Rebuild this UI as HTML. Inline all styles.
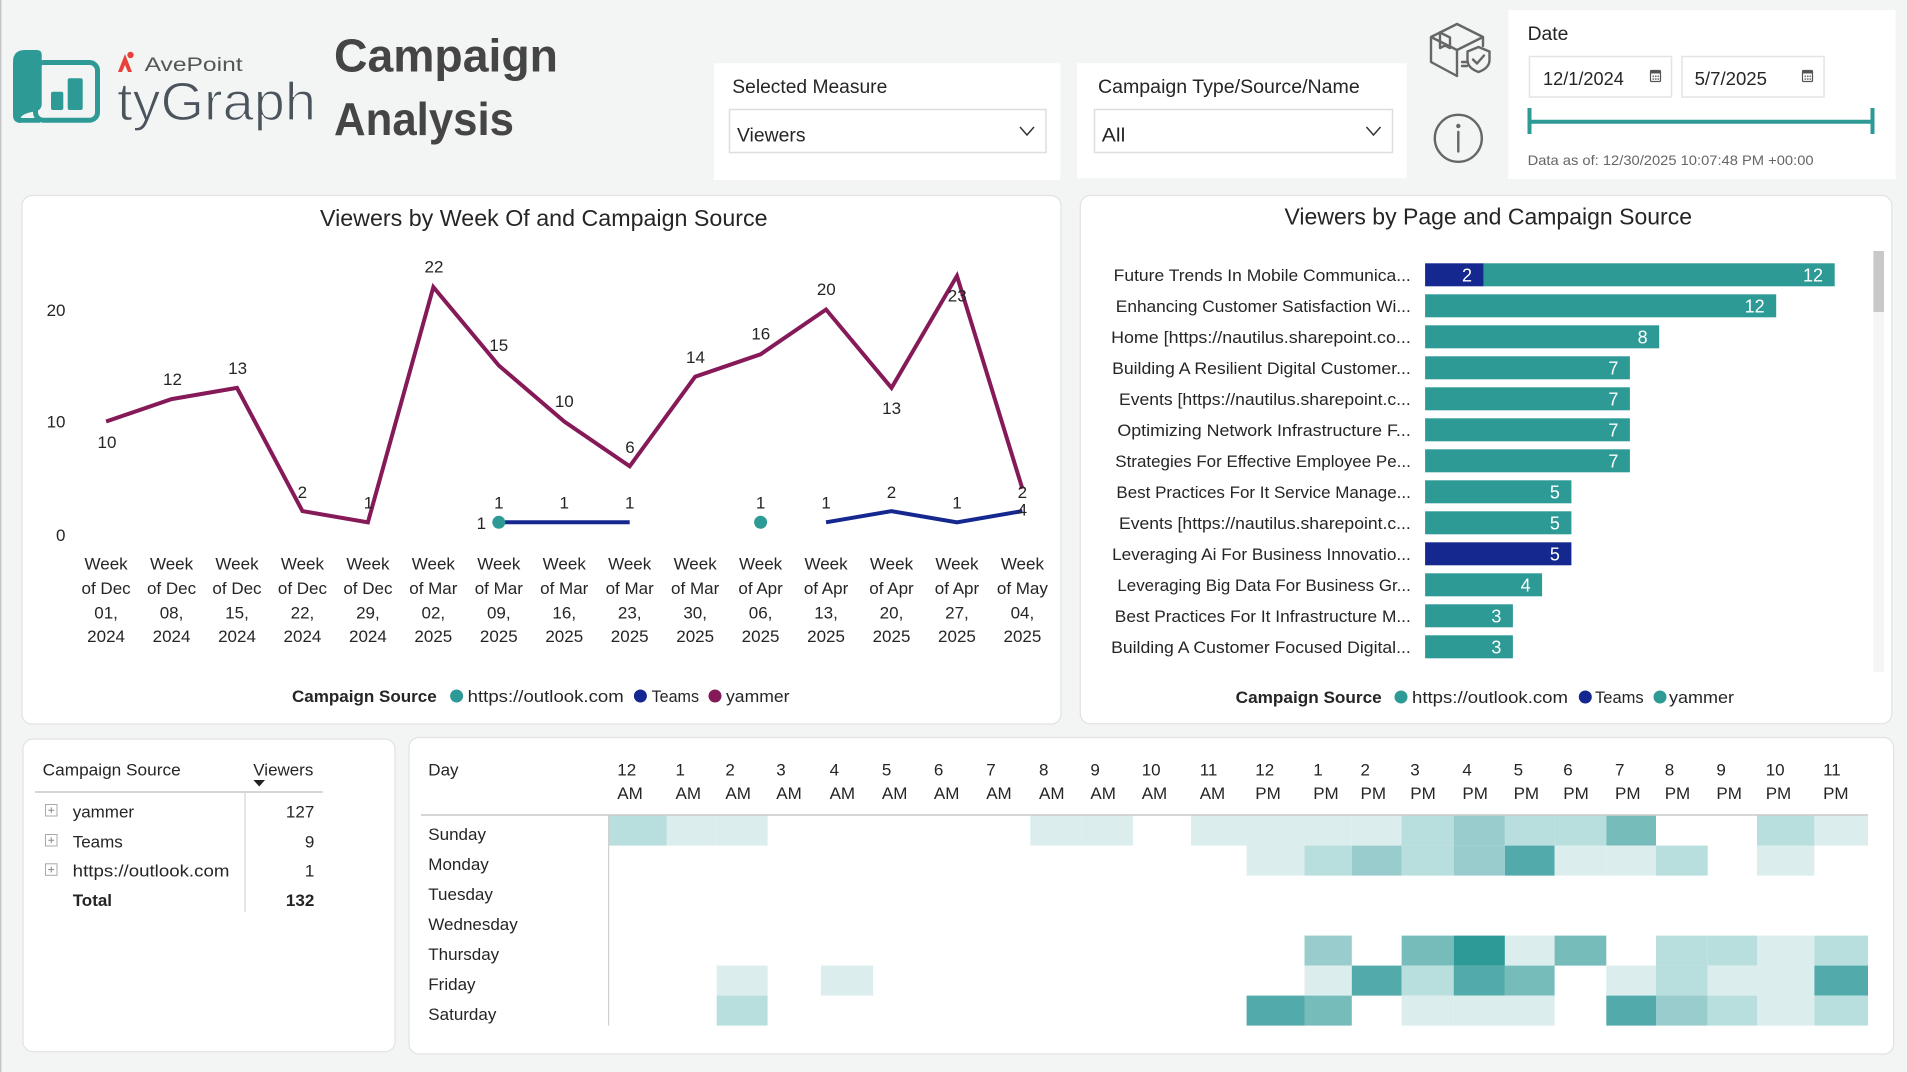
<!DOCTYPE html>
<html>
<head>
<meta charset="utf-8">
<style>
  html, body { margin:0; padding:0; background:#F3F4F4; }
  body { width:1907px; height:1072px; overflow:hidden; }
  svg { display:block; }
  text { font-family: "Liberation Sans", "DejaVu Sans", sans-serif; fill:#252525; }
</style>
</head>
<body>
<svg width="1907" height="1072" viewBox="0 0 1907 1072" xmlns="http://www.w3.org/2000/svg">
  <rect x="0" y="0" width="1907" height="1072" fill="#F3F4F4"/>
  <line x1="0.7" y1="0" x2="0.7" y2="1072" stroke="#c4c4c4" stroke-width="1.4"/>

  <!-- ===== Logo ===== -->
  <g>
    <path d="M13 62 Q13 50 25 50 L37 50 Q41.7 50 41.7 55 L41.7 104 Q41.7 110 35 111.5 Q24 113 21 117 L21 122.7 L20 122.7 Q13 122.7 13 115 Z" fill="#2E9A96"/>
    <rect x="35.5" y="62.5" width="62" height="57.7" rx="8" ry="8" fill="none" stroke="#2E9A96" stroke-width="5"/>
    <path d="M18 118 L40 118 L40 122.7 L18 122.7 Z" fill="#2E9A96"/>
    <rect x="51" y="91.7" width="12.3" height="18.3" rx="2" fill="#2E9A96"/>
    <rect x="67.7" y="78.3" width="15" height="31.7" rx="2" fill="#2E9A96"/>
    <path d="M118 72 L125 54 L132 72 L128 72 L125 65 L122 72 Z" fill="#E8413C"/>
    <circle cx="130.5" cy="55" r="3.2" fill="#E8413C"/>
    <text x="144.6" y="71" font-size="19" textLength="98" lengthAdjust="spacingAndGlyphs" style="fill:#555">AvePoint</text>
    <text x="117" y="120" font-size="54" textLength="199" lengthAdjust="spacingAndGlyphs" style="fill:#4B535C;stroke:#F3F4F4;stroke-width:1.3">tyGraph</text>
  </g>
  <text x="334" y="71.7" font-size="46" font-weight="bold" textLength="224" lengthAdjust="spacingAndGlyphs" style="fill:#454545">Campaign</text>
  <text x="334" y="135" font-size="46" font-weight="bold" textLength="180" lengthAdjust="spacingAndGlyphs" style="fill:#454545">Analysis</text>

  <!-- ===== Slicer panels ===== -->
  <rect x="713.9" y="63.3" width="346.4" height="116.7" fill="#ffffff"/>
  <text x="732.3" y="93" font-size="19" textLength="155" lengthAdjust="spacingAndGlyphs">Selected Measure</text>
  <rect x="729.5" y="109.5" width="316.5" height="43" fill="#ffffff" stroke="#dedede" stroke-width="1.5"/>
  <text x="737" y="141.5" font-size="19" textLength="68.5" lengthAdjust="spacingAndGlyphs">Viewers</text>
  <polyline points="1020,127 1027,135 1034,127" fill="none" stroke="#333" stroke-width="1.5"/>

  <rect x="1077" y="63.3" width="329.7" height="115" fill="#ffffff"/>
  <text x="1098" y="93" font-size="19" textLength="261.7" lengthAdjust="spacingAndGlyphs">Campaign Type/Source/Name</text>
  <rect x="1094.5" y="109.5" width="298" height="43" fill="#ffffff" stroke="#dedede" stroke-width="1.5"/>
  <text x="1101.8" y="141.5" font-size="19" textLength="23.5" lengthAdjust="spacingAndGlyphs">All</text>
  <polyline points="1366.5,127 1373.5,135 1380.5,127" fill="none" stroke="#333" stroke-width="1.5"/>

  <!-- icons -->
  <g fill="none" stroke="#666" stroke-width="2.4" stroke-linejoin="round" stroke-linecap="round">
    <path d="M1457 24 L1431 37 L1431 62 L1457 76 M1431 37 L1457 50 L1483 37 L1457 24 M1457 50 L1457 76 M1483 37 L1483 46"/>
    <path d="M1440 32.5 L1450 37.5 L1450 48 L1445 45.5 L1440 48 Z"/>
    <path d="M1462 62 L1468 62 M1462 66 L1467 66"/>
    <path d="M1478.5 47 L1489.5 51.5 L1489.5 60 Q1489.5 68 1478.5 72 Q1467.5 68 1467.5 60 L1467.5 51.5 Z" fill="#F3F4F4"/>
    <path d="M1473 59.5 L1477 63.5 L1484 55.5"/>
    <circle cx="1458.3" cy="138.3" r="23.5"/>
    <line x1="1458.3" y1="132" x2="1458.3" y2="151.5"/>
  </g>
  <circle cx="1458.3" cy="126" r="2.2" fill="#666"/>

  <!-- Date panel -->
  <rect x="1508.3" y="10" width="387.2" height="169" fill="#ffffff"/>
  <text x="1527.6" y="40" font-size="19" textLength="40.8" lengthAdjust="spacingAndGlyphs">Date</text>
  <rect x="1529.5" y="56.5" width="142" height="40.5" fill="#ffffff" stroke="#e4e4e4" stroke-width="1.5"/>
  <rect x="1682" y="56.5" width="142" height="40.5" fill="#ffffff" stroke="#e4e4e4" stroke-width="1.5"/>
  <text x="1543" y="85" font-size="18" textLength="80.8" lengthAdjust="spacingAndGlyphs">12/1/2024</text>
  <text x="1694.6" y="85" font-size="18" textLength="72.4" lengthAdjust="spacingAndGlyphs">5/7/2025</text>
  <g stroke="#555" stroke-width="1.2" fill="none">
    <rect x="1650.5" y="70.5" width="10" height="11" rx="1"/>
    <rect x="1802.5" y="70.5" width="10" height="11" rx="1"/>
  </g>
  <rect x="1650.5" y="70.5" width="10" height="3" fill="#555"/>
  <rect x="1802.5" y="70.5" width="10" height="3" fill="#555"/>
  <g fill="#777">
    <rect x="1652.5" y="75.5" width="1.6" height="1.6"/><rect x="1655" y="75.5" width="1.6" height="1.6"/><rect x="1657.5" y="75.5" width="1.6" height="1.6"/>
    <rect x="1652.5" y="78.3" width="1.6" height="1.6"/><rect x="1655" y="78.3" width="1.6" height="1.6"/><rect x="1657.5" y="78.3" width="1.6" height="1.6"/>
    <rect x="1804.5" y="75.5" width="1.6" height="1.6"/><rect x="1807" y="75.5" width="1.6" height="1.6"/><rect x="1809.5" y="75.5" width="1.6" height="1.6"/>
    <rect x="1804.5" y="78.3" width="1.6" height="1.6"/><rect x="1807" y="78.3" width="1.6" height="1.6"/><rect x="1809.5" y="78.3" width="1.6" height="1.6"/>
  </g>
  <line x1="1529" y1="121.7" x2="1873" y2="121.7" stroke="#2E9A96" stroke-width="4"/>
  <line x1="1529.5" y1="108" x2="1529.5" y2="134" stroke="#2E9A96" stroke-width="4"/>
  <line x1="1872.5" y1="108" x2="1872.5" y2="134" stroke="#2E9A96" stroke-width="4"/>
  <text x="1527.6" y="165" font-size="14" textLength="286" lengthAdjust="spacingAndGlyphs" style="fill:#666">Data as of: 12/30/2025 10:07:48 PM +00:00</text>

  <!-- ===== Line chart panel ===== -->
  <rect x="22" y="195.5" width="1039" height="528.5" rx="10" ry="10" fill="#ffffff" stroke="#e2e2e2" stroke-width="1.2"/>
  <text x="320" y="226" font-size="23" textLength="447.6" lengthAdjust="spacingAndGlyphs">Viewers by Week Of and Campaign Source</text>

  <g font-size="17" text-anchor="end">
    <text x="65.5" y="316">20</text>
    <text x="65.5" y="427.5">10</text>
    <text x="65.5" y="541">0</text>
  </g>

  <polyline fill="none" stroke="#861A58" stroke-width="4" stroke-linejoin="miter"
    points="106.1,421.5 171.55,399.1 237,387.9 302.45,511.1 367.9,522.3 433.35,287.1 498.8,365.5 564.25,421.5 629.7,466.3 695.15,376.7 760.6,354.3 826.05,309.5 891.5,387.9 956.95,275.9 1022.4,488.7"/>
  <polyline fill="none" stroke="#14288F" stroke-width="4" points="498.8,522.3 564.25,522.3 629.7,522.3"/>
  <polyline fill="none" stroke="#14288F" stroke-width="4" points="826.05,522.3 891.5,511.1 956.95,522.3 1022.4,511.1"/>
  <circle cx="498.8" cy="522.3" r="6.5" fill="#2E9A96"/>
  <circle cx="760.6" cy="522.3" r="6.5" fill="#2E9A96"/>

  <g font-size="17" text-anchor="middle">
    <text x="107" y="447.8">10</text>
    <text x="172.5" y="385">12</text>
    <text x="237.6" y="374">13</text>
    <text x="302.4" y="498">2</text>
    <text x="368.5" y="508.6">1</text>
    <text x="434" y="272.7">22</text>
    <text x="498.7" y="350.8">15</text>
    <text x="564.3" y="407">10</text>
    <text x="630" y="452.9">6</text>
    <text x="695.5" y="363">14</text>
    <text x="760.8" y="339.6">16</text>
    <text x="826.3" y="295">20</text>
    <text x="891.6" y="414">13</text>
    <text x="957.2" y="301.7">23</text>
    <text x="1022.4" y="515.4">4</text>
    <text x="498.8" y="508.6">1</text>
    <text x="564.25" y="508.6">1</text>
    <text x="629.7" y="508.6">1</text>
    <text x="826.05" y="508.6">1</text>
    <text x="956.95" y="508.6">1</text>
    <text x="891.5" y="497.8">2</text>
    <text x="1022.4" y="497.8">2</text>
    <text x="481.4" y="529">1</text>
    <text x="760.6" y="508.6">1</text>
  </g>

  <g font-size="17" text-anchor="middle">
    <text x="106.1" y="569.5">Week</text><text x="106.1" y="593.8">of Dec</text><text x="106.1" y="618.5">01,</text><text x="106.1" y="642.2">2024</text>
    <text x="171.55" y="569.5">Week</text><text x="171.55" y="593.8">of Dec</text><text x="171.55" y="618.5">08,</text><text x="171.55" y="642.2">2024</text>
    <text x="237" y="569.5">Week</text><text x="237" y="593.8">of Dec</text><text x="237" y="618.5">15,</text><text x="237" y="642.2">2024</text>
    <text x="302.45" y="569.5">Week</text><text x="302.45" y="593.8">of Dec</text><text x="302.45" y="618.5">22,</text><text x="302.45" y="642.2">2024</text>
    <text x="367.9" y="569.5">Week</text><text x="367.9" y="593.8">of Dec</text><text x="367.9" y="618.5">29,</text><text x="367.9" y="642.2">2024</text>
    <text x="433.35" y="569.5">Week</text><text x="433.35" y="593.8">of Mar</text><text x="433.35" y="618.5">02,</text><text x="433.35" y="642.2">2025</text>
    <text x="498.8" y="569.5">Week</text><text x="498.8" y="593.8">of Mar</text><text x="498.8" y="618.5">09,</text><text x="498.8" y="642.2">2025</text>
    <text x="564.25" y="569.5">Week</text><text x="564.25" y="593.8">of Mar</text><text x="564.25" y="618.5">16,</text><text x="564.25" y="642.2">2025</text>
    <text x="629.7" y="569.5">Week</text><text x="629.7" y="593.8">of Mar</text><text x="629.7" y="618.5">23,</text><text x="629.7" y="642.2">2025</text>
    <text x="695.15" y="569.5">Week</text><text x="695.15" y="593.8">of Mar</text><text x="695.15" y="618.5">30,</text><text x="695.15" y="642.2">2025</text>
    <text x="760.6" y="569.5">Week</text><text x="760.6" y="593.8">of Apr</text><text x="760.6" y="618.5">06,</text><text x="760.6" y="642.2">2025</text>
    <text x="826.05" y="569.5">Week</text><text x="826.05" y="593.8">of Apr</text><text x="826.05" y="618.5">13,</text><text x="826.05" y="642.2">2025</text>
    <text x="891.5" y="569.5">Week</text><text x="891.5" y="593.8">of Apr</text><text x="891.5" y="618.5">20,</text><text x="891.5" y="642.2">2025</text>
    <text x="956.95" y="569.5">Week</text><text x="956.95" y="593.8">of Apr</text><text x="956.95" y="618.5">27,</text><text x="956.95" y="642.2">2025</text>
    <text x="1022.4" y="569.5">Week</text><text x="1022.4" y="593.8">of May</text><text x="1022.4" y="618.5">04,</text><text x="1022.4" y="642.2">2025</text>
  </g>

  <text x="292" y="702" font-size="17" font-weight="bold" textLength="144.7" lengthAdjust="spacingAndGlyphs">Campaign Source</text>
  <circle cx="456.6" cy="696" r="6.5" fill="#2E9A96"/>
  <text x="467.7" y="702" font-size="17" textLength="156" lengthAdjust="spacingAndGlyphs">https://outlook.com</text>
  <circle cx="640.4" cy="696" r="6.5" fill="#14288F"/>
  <text x="651.6" y="702" font-size="17" textLength="47.4" lengthAdjust="spacingAndGlyphs">Teams</text>
  <circle cx="715" cy="696" r="6.5" fill="#861A58"/>
  <text x="726" y="702" font-size="17" textLength="63.5" lengthAdjust="spacingAndGlyphs">yammer</text>

  <!-- ===== Bar chart panel ===== -->
  <rect x="1080.3" y="195.5" width="811.5" height="528.2" rx="10" ry="10" fill="#ffffff" stroke="#e2e2e2" stroke-width="1.2"/>
  <text x="1284.5" y="224.5" font-size="23" textLength="407.5" lengthAdjust="spacingAndGlyphs">Viewers by Page and Campaign Source</text>
  <rect x="1873.4" y="251" width="10.6" height="421" fill="#f5f5f5"/>
  <rect x="1873.4" y="251" width="10.6" height="61" fill="#c8c8c8"/>

  <g font-size="17">
    <text x="1113.7" y="281" textLength="297.1" lengthAdjust="spacingAndGlyphs">Future Trends In Mobile Communica...</text>
    <text x="1115.8" y="312" textLength="295" lengthAdjust="spacingAndGlyphs">Enhancing Customer Satisfaction Wi...</text>
    <text x="1111.1" y="343" textLength="299.7" lengthAdjust="spacingAndGlyphs">Home [https://nautilus.sharepoint.co...</text>
    <text x="1112.1" y="374" textLength="298.7" lengthAdjust="spacingAndGlyphs">Building A Resilient Digital Customer...</text>
    <text x="1119" y="405" textLength="291.8" lengthAdjust="spacingAndGlyphs">Events [https://nautilus.sharepoint.c...</text>
    <text x="1117.4" y="436" textLength="293.4" lengthAdjust="spacingAndGlyphs">Optimizing Network Infrastructure F...</text>
    <text x="1115.3" y="467" textLength="295.5" lengthAdjust="spacingAndGlyphs">Strategies For Effective Employee Pe...</text>
    <text x="1116.4" y="498" textLength="294.4" lengthAdjust="spacingAndGlyphs">Best Practices For It Service Manage...</text>
    <text x="1119" y="529" textLength="291.8" lengthAdjust="spacingAndGlyphs">Events [https://nautilus.sharepoint.c...</text>
    <text x="1112.1" y="560" textLength="298.7" lengthAdjust="spacingAndGlyphs">Leveraging Ai For Business Innovatio...</text>
    <text x="1117.4" y="591" textLength="293.4" lengthAdjust="spacingAndGlyphs">Leveraging Big Data For Business Gr...</text>
    <text x="1114.8" y="622" textLength="296" lengthAdjust="spacingAndGlyphs">Best Practices For It Infrastructure M...</text>
    <text x="1111.1" y="653" textLength="299.7" lengthAdjust="spacingAndGlyphs">Building A Customer Focused Digital...</text>
  </g>

  <g>
    <rect x="1425.1" y="263.3" width="58.5" height="23" fill="#14288F"/>
    <rect x="1483.6" y="263.3" width="351.1" height="23" fill="#2E9A96"/>
    <rect x="1425.1" y="294.3" width="351.1" height="23" fill="#2E9A96"/>
    <rect x="1425.1" y="325.3" width="234.1" height="23" fill="#2E9A96"/>
    <rect x="1425.1" y="356.3" width="204.8" height="23" fill="#2E9A96"/>
    <rect x="1425.1" y="387.3" width="204.8" height="23" fill="#2E9A96"/>
    <rect x="1425.1" y="418.3" width="204.8" height="23" fill="#2E9A96"/>
    <rect x="1425.1" y="449.3" width="204.8" height="23" fill="#2E9A96"/>
    <rect x="1425.1" y="480.3" width="146.3" height="23" fill="#2E9A96"/>
    <rect x="1425.1" y="511.3" width="146.3" height="23" fill="#2E9A96"/>
    <rect x="1425.1" y="542.3" width="146.3" height="23" fill="#14288F"/>
    <rect x="1425.1" y="573.3" width="117" height="23" fill="#2E9A96"/>
    <rect x="1425.1" y="604.3" width="87.8" height="23" fill="#2E9A96"/>
    <rect x="1425.1" y="635.3" width="87.8" height="23" fill="#2E9A96"/>
  </g>
  <g font-size="18" text-anchor="end">
    <text x="1472" y="281.3" style="fill:#fff">2</text>
    <text x="1823" y="281.3" style="fill:#fff">12</text>
    <text x="1764.7" y="312.3" style="fill:#fff">12</text>
    <text x="1647.7" y="343.3" style="fill:#fff">8</text>
    <text x="1618.4" y="374.3" style="fill:#fff">7</text>
    <text x="1618.4" y="405.3" style="fill:#fff">7</text>
    <text x="1618.4" y="436.3" style="fill:#fff">7</text>
    <text x="1618.4" y="467.3" style="fill:#fff">7</text>
    <text x="1559.9" y="498.3" style="fill:#fff">5</text>
    <text x="1559.9" y="529.3" style="fill:#fff">5</text>
    <text x="1559.9" y="560.3" style="fill:#fff">5</text>
    <text x="1530.6" y="591.3" style="fill:#fff">4</text>
    <text x="1501.4" y="622.3" style="fill:#fff">3</text>
    <text x="1501.4" y="653.3" style="fill:#fff">3</text>
  </g>

  <text x="1235.7" y="703" font-size="17" font-weight="bold" textLength="146" lengthAdjust="spacingAndGlyphs">Campaign Source</text>
  <circle cx="1401" cy="697" r="6.5" fill="#2E9A96"/>
  <text x="1412" y="703" font-size="17" textLength="156" lengthAdjust="spacingAndGlyphs">https://outlook.com</text>
  <circle cx="1585.3" cy="697" r="6.5" fill="#14288F"/>
  <text x="1595" y="703" font-size="17" textLength="48.7" lengthAdjust="spacingAndGlyphs">Teams</text>
  <circle cx="1660" cy="697" r="6.5" fill="#2E9A96"/>
  <text x="1669" y="703" font-size="17" textLength="65" lengthAdjust="spacingAndGlyphs">yammer</text>

  <!-- ===== Table panel ===== -->
  <rect x="23" y="739" width="372" height="312.7" rx="10" ry="10" fill="#ffffff" stroke="#e2e2e2" stroke-width="1.2"/>
  <text x="42.7" y="775.7" font-size="17" textLength="138" lengthAdjust="spacingAndGlyphs">Campaign Source</text>
  <text x="253.3" y="775.7" font-size="17" textLength="60" lengthAdjust="spacingAndGlyphs">Viewers</text>
  <polygon points="253.5,780 265,780 259.2,786.5" fill="#222"/>
  <line x1="35" y1="792" x2="322.7" y2="792" stroke="#c8c8c8" stroke-width="1.5"/>
  <line x1="245" y1="792" x2="245" y2="911.7" stroke="#d4d4d4" stroke-width="1.2"/>
  <g fill="#fff" stroke="#a8a8a8" stroke-width="1">
    <rect x="45.5" y="804.5" width="11.5" height="11.5"/>
    <rect x="45.5" y="834.5" width="11.5" height="11.5"/>
    <rect x="45.5" y="863.8" width="11.5" height="11.5"/>
  </g>
  <g stroke="#888" stroke-width="1">
    <line x1="48.3" y1="810.25" x2="54.2" y2="810.25"/><line x1="51.25" y1="807.3" x2="51.25" y2="813.2"/>
    <line x1="48.3" y1="840.25" x2="54.2" y2="840.25"/><line x1="51.25" y1="837.3" x2="51.25" y2="843.2"/>
    <line x1="48.3" y1="869.55" x2="54.2" y2="869.55"/><line x1="51.25" y1="866.6" x2="51.25" y2="872.5"/>
  </g>
  <g font-size="17">
    <text x="72.7" y="817.3">yammer</text>
    <text x="72.7" y="847.3">Teams</text>
    <text x="72.7" y="876.7" textLength="156.7" lengthAdjust="spacingAndGlyphs">https://outlook.com</text>
    <text x="72.7" y="906" font-weight="bold">Total</text>
  </g>
  <g font-size="17" text-anchor="end">
    <text x="314.3" y="817.3">127</text>
    <text x="314.3" y="847.3">9</text>
    <text x="314.3" y="876.7">1</text>
    <text x="314.3" y="906" font-weight="bold">132</text>
  </g>

  <!-- ===== Heatmap panel ===== -->
  <rect x="409" y="737.5" width="1484.6" height="316.5" rx="10" ry="10" fill="#ffffff" stroke="#e2e2e2" stroke-width="1.2"/>

  <g>
    <rect x="608.6" y="815.6" width="58.2" height="30" fill="#B9DEDE"/>
    <rect x="666.8" y="815.6" width="49.9" height="30" fill="#DCEDED"/>
    <rect x="716.7" y="815.6" width="50.9" height="30" fill="#DCEDED"/>
    <rect x="1030.3" y="815.6" width="51.4" height="30" fill="#DCEDED"/>
    <rect x="1081.7" y="815.6" width="51.3" height="30" fill="#DCEDED"/>
    <rect x="1191" y="815.6" width="55.6" height="30" fill="#DCEDED"/>
    <rect x="1246.6" y="815.6" width="57.9" height="30" fill="#DCEDED"/>
    <rect x="1304.5" y="815.6" width="47.3" height="30" fill="#DCEDED"/>
    <rect x="1351.8" y="815.6" width="49.8" height="30" fill="#DCEDED"/>
    <rect x="1401.6" y="815.6" width="52.1" height="30" fill="#B9DEDE"/>
    <rect x="1453.7" y="815.6" width="51.2" height="30" fill="#99CDCD"/>
    <rect x="1504.9" y="815.6" width="49.7" height="30" fill="#B9DEDE"/>
    <rect x="1554.6" y="815.6" width="51.7" height="30" fill="#B9DEDE"/>
    <rect x="1606.3" y="815.6" width="49.7" height="30" fill="#76BCBB"/>
    <rect x="1757" y="815.6" width="57.4" height="30" fill="#B9DEDE"/>
    <rect x="1814.4" y="815.6" width="53.6" height="30" fill="#DCEDED"/>
    <rect x="1246.6" y="845.6" width="57.9" height="30" fill="#DCEDED"/>
    <rect x="1304.5" y="845.6" width="47.3" height="30" fill="#B9DEDE"/>
    <rect x="1351.8" y="845.6" width="49.8" height="30" fill="#99CDCD"/>
    <rect x="1401.6" y="845.6" width="52.1" height="30" fill="#B9DEDE"/>
    <rect x="1453.7" y="845.6" width="51.2" height="30" fill="#99CDCD"/>
    <rect x="1504.9" y="845.6" width="49.7" height="30" fill="#52AAAA"/>
    <rect x="1554.6" y="845.6" width="51.7" height="30" fill="#DCEDED"/>
    <rect x="1606.3" y="845.6" width="49.7" height="30" fill="#DCEDED"/>
    <rect x="1656" y="845.6" width="51.7" height="30" fill="#B9DEDE"/>
    <rect x="1757" y="845.6" width="57.4" height="30" fill="#DCEDED"/>
    <rect x="1304.5" y="935.6" width="47.3" height="30" fill="#99CDCD"/>
    <rect x="1401.6" y="935.6" width="52.1" height="30" fill="#76BCBB"/>
    <rect x="1453.7" y="935.6" width="51.2" height="30" fill="#2E9A98"/>
    <rect x="1504.9" y="935.6" width="49.7" height="30" fill="#DCEDED"/>
    <rect x="1554.6" y="935.6" width="51.7" height="30" fill="#76BCBB"/>
    <rect x="1656" y="935.6" width="51.7" height="30" fill="#B9DEDE"/>
    <rect x="1707.7" y="935.6" width="49.3" height="30" fill="#B9DEDE"/>
    <rect x="1757" y="935.6" width="57.4" height="30" fill="#DCEDED"/>
    <rect x="1814.4" y="935.6" width="53.6" height="30" fill="#B9DEDE"/>
    <rect x="716.7" y="965.6" width="50.9" height="30" fill="#DCEDED"/>
    <rect x="820.9" y="965.6" width="52.3" height="30" fill="#DCEDED"/>
    <rect x="1304.5" y="965.6" width="47.3" height="30" fill="#DCEDED"/>
    <rect x="1351.8" y="965.6" width="49.8" height="30" fill="#52AAAA"/>
    <rect x="1401.6" y="965.6" width="52.1" height="30" fill="#B9DEDE"/>
    <rect x="1453.7" y="965.6" width="51.2" height="30" fill="#52AAAA"/>
    <rect x="1504.9" y="965.6" width="49.7" height="30" fill="#76BCBB"/>
    <rect x="1606.3" y="965.6" width="49.7" height="30" fill="#DCEDED"/>
    <rect x="1656" y="965.6" width="51.7" height="30" fill="#B9DEDE"/>
    <rect x="1707.7" y="965.6" width="49.3" height="30" fill="#DCEDED"/>
    <rect x="1757" y="965.6" width="57.4" height="30" fill="#DCEDED"/>
    <rect x="1814.4" y="965.6" width="53.6" height="30" fill="#52AAAA"/>
    <rect x="716.7" y="995.6" width="50.9" height="30" fill="#B9DEDE"/>
    <rect x="1246.6" y="995.6" width="57.9" height="30" fill="#52AAAA"/>
    <rect x="1304.5" y="995.6" width="47.3" height="30" fill="#76BCBB"/>
    <rect x="1401.6" y="995.6" width="52.1" height="30" fill="#DCEDED"/>
    <rect x="1453.7" y="995.6" width="51.2" height="30" fill="#DCEDED"/>
    <rect x="1504.9" y="995.6" width="49.7" height="30" fill="#DCEDED"/>
    <rect x="1606.3" y="995.6" width="49.7" height="30" fill="#52AAAA"/>
    <rect x="1656" y="995.6" width="51.7" height="30" fill="#99CDCD"/>
    <rect x="1707.7" y="995.6" width="49.3" height="30" fill="#B9DEDE"/>
    <rect x="1757" y="995.6" width="57.4" height="30" fill="#DCEDED"/>
    <rect x="1814.4" y="995.6" width="53.6" height="30" fill="#B9DEDE"/>
  </g>

  <line x1="421" y1="815" x2="1868" y2="815" stroke="#c8c8c8" stroke-width="1.5"/>
  <line x1="608.6" y1="815" x2="608.6" y2="1025.6" stroke="#d0d0d0" stroke-width="1.2"/>

  <g font-size="17">
    <text x="428.3" y="775.3">Day</text>
    <text x="428.3" y="840">Sunday</text>
    <text x="428.3" y="870">Monday</text>
    <text x="428.3" y="900">Tuesday</text>
    <text x="428.3" y="930">Wednesday</text>
    <text x="428.3" y="960">Thursday</text>
    <text x="428.3" y="990">Friday</text>
    <text x="428.3" y="1020">Saturday</text>

    <text x="617.3" y="775.3">12</text><text x="617.3" y="798.8">AM</text>
    <text x="675.5" y="775.3">1</text><text x="675.5" y="798.8">AM</text>
    <text x="725.4" y="775.3">2</text><text x="725.4" y="798.8">AM</text>
    <text x="776.3" y="775.3">3</text><text x="776.3" y="798.8">AM</text>
    <text x="829.6" y="775.3">4</text><text x="829.6" y="798.8">AM</text>
    <text x="881.9" y="775.3">5</text><text x="881.9" y="798.8">AM</text>
    <text x="933.9" y="775.3">6</text><text x="933.9" y="798.8">AM</text>
    <text x="986.2" y="775.3">7</text><text x="986.2" y="798.8">AM</text>
    <text x="1039" y="775.3">8</text><text x="1039" y="798.8">AM</text>
    <text x="1090.4" y="775.3">9</text><text x="1090.4" y="798.8">AM</text>
    <text x="1141.7" y="775.3">10</text><text x="1141.7" y="798.8">AM</text>
    <text x="1199.7" y="775.3">11</text><text x="1199.7" y="798.8">AM</text>
    <text x="1255.3" y="775.3">12</text><text x="1255.3" y="798.8">PM</text>
    <text x="1313.2" y="775.3">1</text><text x="1313.2" y="798.8">PM</text>
    <text x="1360.5" y="775.3">2</text><text x="1360.5" y="798.8">PM</text>
    <text x="1410.3" y="775.3">3</text><text x="1410.3" y="798.8">PM</text>
    <text x="1462.4" y="775.3">4</text><text x="1462.4" y="798.8">PM</text>
    <text x="1513.6" y="775.3">5</text><text x="1513.6" y="798.8">PM</text>
    <text x="1563.3" y="775.3">6</text><text x="1563.3" y="798.8">PM</text>
    <text x="1615" y="775.3">7</text><text x="1615" y="798.8">PM</text>
    <text x="1664.7" y="775.3">8</text><text x="1664.7" y="798.8">PM</text>
    <text x="1716.4" y="775.3">9</text><text x="1716.4" y="798.8">PM</text>
    <text x="1765.7" y="775.3">10</text><text x="1765.7" y="798.8">PM</text>
    <text x="1823.1" y="775.3">11</text><text x="1823.1" y="798.8">PM</text>
  </g>
</svg>
</body>
</html>
